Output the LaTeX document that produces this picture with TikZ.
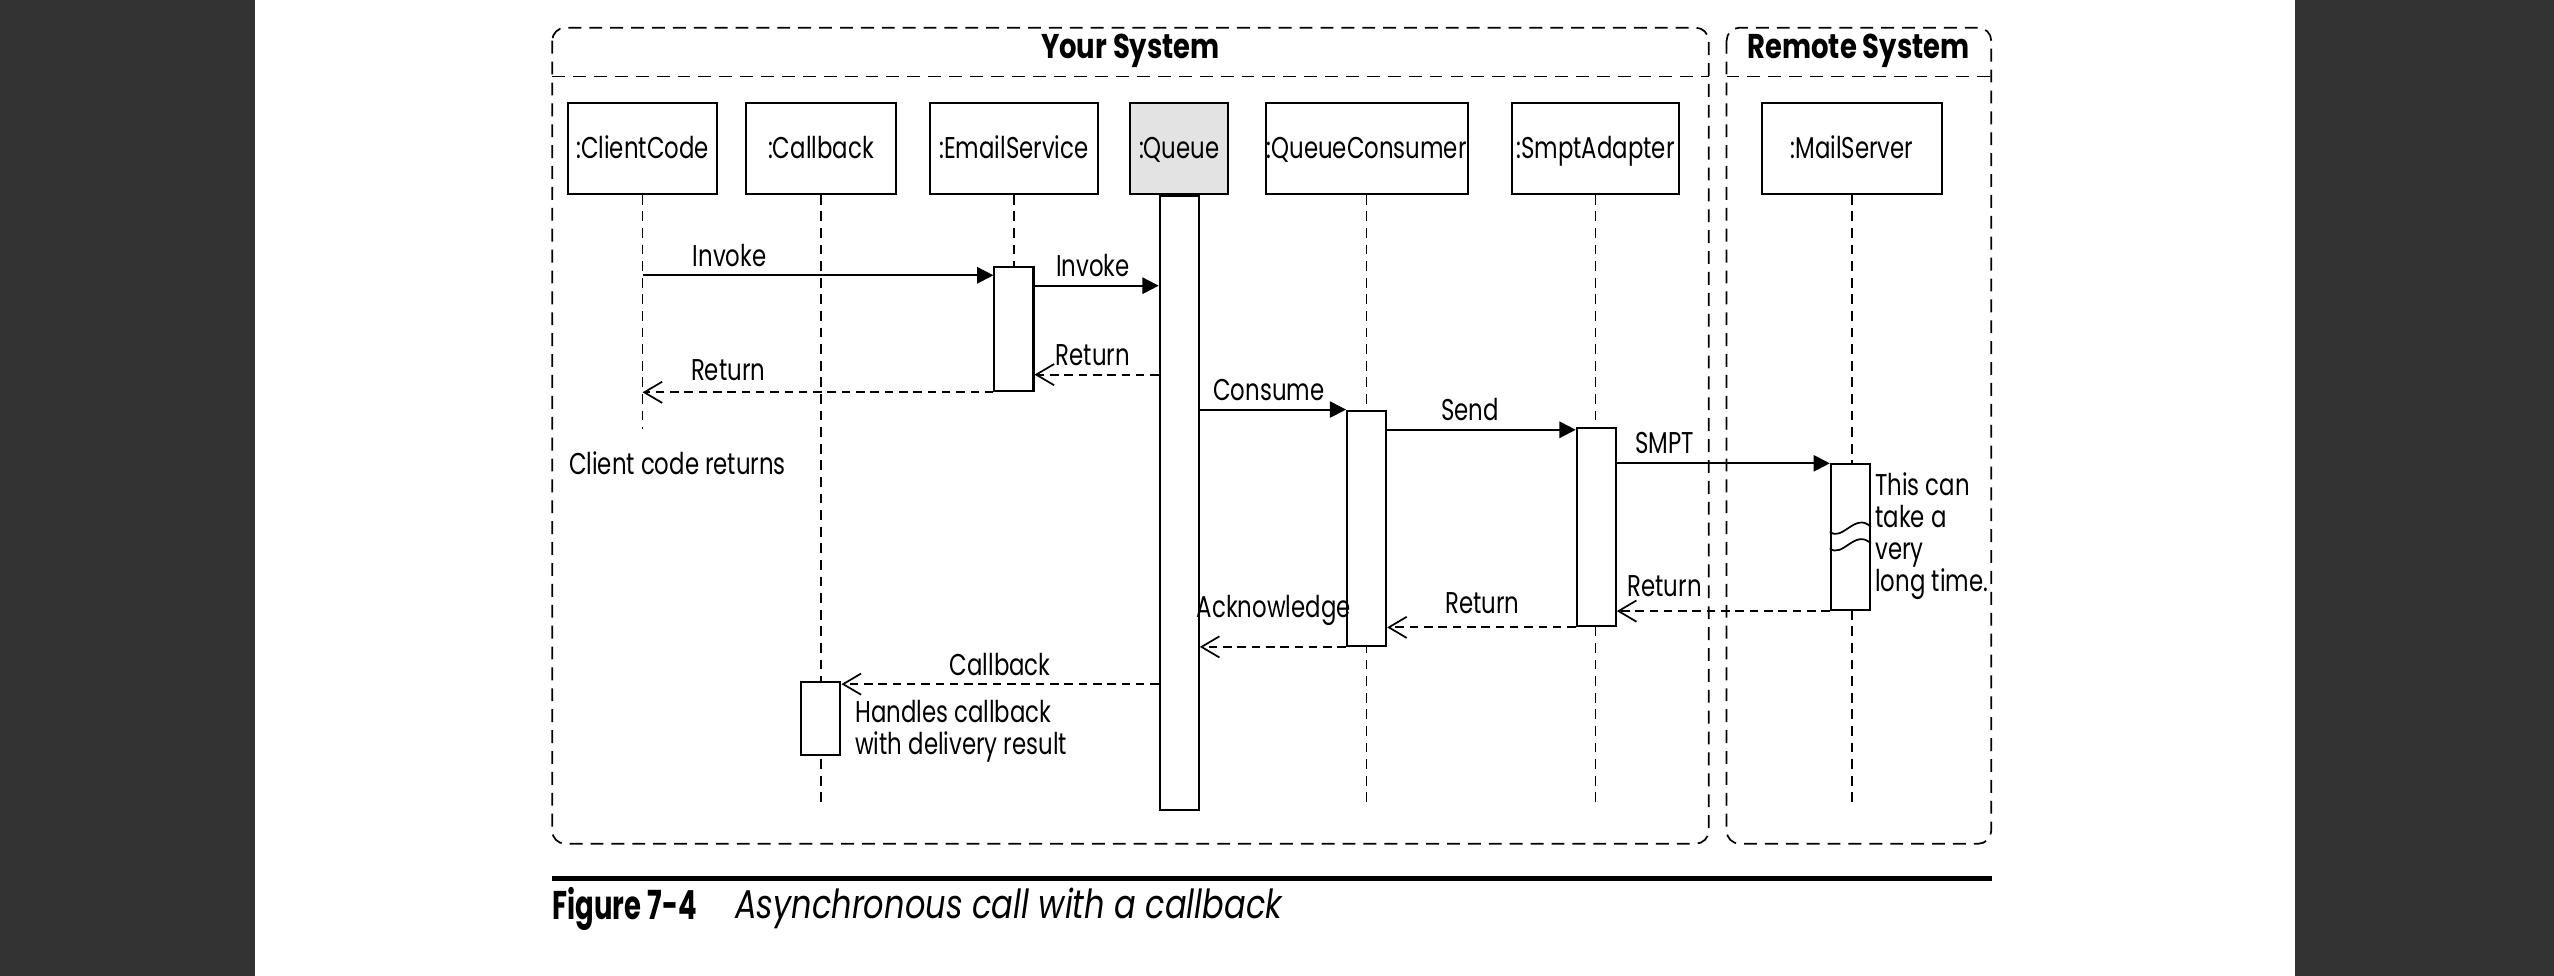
\documentclass[tikz,border=0pt]{standalone}
\usepackage{fontspec}
\setmainfont{Poppins}[FakeStretch=0.76]
\newfontfamily\titlefont{Poppins}[FakeStretch=0.8]
\newfontfamily\capnumfont{Poppins}[FakeStretch=0.685]
\newfontfamily\captextfont{Poppins}[FakeStretch=0.8]
\usetikzlibrary{arrows.meta}

\definecolor{pagegray}{HTML}{333333}
\definecolor{queuegray}{HTML}{E3E3E3}

\tikzset{
    obj/.style={draw, line width=0.7pt, minimum height=1.12cm, inner sep=0pt, text height=8pt, text depth=0.6pt, font=\fontsize{10.5}{12}\selectfont},
    actbar/.style={draw, fill=white, line width=0.7pt, minimum width=0.48cm, inner sep=0pt},
    lifeline/.style={line width=0.5pt, dash pattern=on 3.4pt off 2.4pt},
    frame/.style={line width=0.6pt, dash pattern=on 4.5pt off 2.8pt, rounded corners=0.16cm},
    framesep/.style={line width=0.6pt, dash pattern=on 4.5pt off 2.8pt},
    call/.style={line width=0.7pt, -{Triangle[length=0.2cm, width=0.2cm]}},
    reply/.style={line width=0.7pt, dash pattern=on 3pt off 2pt, -{Straight Barb[length=0.22cm, width=0.26cm, line width=0.6pt]}},
    msg/.style={font=\fontsize{10.5}{12}\selectfont, inner sep=0pt},
    note/.style={font=\fontsize{10.5}{11.2}\selectfont, align=left, anchor=west, inner sep=0pt},
    title/.style={font=\titlefont\bfseries\fontsize{12}{14}\selectfont, inner sep=0pt}
}

\begin{document}
\begin{tikzpicture}[x=0.02cm, y=-0.02cm]
    % Page
    \fill[pagegray] (0,0) rectangle (156.5,599);
    \fill[pagegray] (1409,0) rectangle (1568,599);
    \useasboundingbox (0,0) rectangle (1568,599);
    % Frames
    \draw[frame] (339,17) rectangle (1049,518);
    \draw[frame] (1060,17) rectangle (1222.5,518);
    \draw[framesep] (339,47) -- (1049,47);
    \draw[framesep] (1060,47) -- (1222.5,47);
    \node[title] (yourtitle) at (694,31.5) {Your System};
    \node[title] (remotetitle) at (1141,31.5) {Remote System};
    % Objects
    \node[obj, minimum width=1.84cm] (client) at (394.5,91) {:ClientCode};
    \node[obj, minimum width=1.84cm] (callback) at (504,91) {:Callback};
    \node[obj, minimum width=2.06cm] (email) at (622.5,91) {:EmailService};
    \node[obj, minimum width=1.2cm, fill=queuegray] (queue) at (724,91) {:Queue};
    \node[obj, minimum width=2.48cm] (consumer) at (839,91) {:QueueConsumer};
    \node[obj, minimum width=2.04cm] (adapter) at (979.5,91) {:SmptAdapter};
    \node[obj, minimum width=2.22cm] (mail) at (1137,91) {:MailServer};
    % Lifelines
    \draw[lifeline] (client.south) -- ++(0,144);
    \draw[lifeline] (callback.south) -- ++(0,377);
    \draw[lifeline] (email.south) -- ++(0,45);
    \draw[lifeline] (consumer.south) -- ++(0,377);
    \draw[lifeline] (adapter.south) -- ++(0,375);
    \draw[lifeline] (mail.south) -- ++(0,375);
    % Activations
    \node[actbar, minimum height=7.54cm, anchor=north] (queueact) at (queue.south) {};
    \node[actbar, minimum height=1.53cm] (emailact) at (622.5,202) {};
    \node[actbar, minimum height=2.89cm] (consumeract) at (839,324.3) {};
    \node[actbar, minimum height=2.43cm] (adapteract) at (980,323.8) {};
    \node[actbar, minimum height=1.79cm] (mailact) at (1136,329.8) {};
    \node[actbar, minimum height=0.9cm] (callbackact) at (504,441) {};
    % Long wait
    \draw[line width=0.6pt] (mailact.west |- 0,326.4) .. controls (1131,333) and (1139,314) .. (mailact.east |- 0,323.5);
    \draw[line width=0.6pt] (mailact.west |- 0,336.6) .. controls (1131,343.2) and (1139,324.2) .. (mailact.east |- 0,333.7);
    % Rows
    \coordinate (invokeA) at (0,169);
    \coordinate (invokeB) at (0,175.4);
    \coordinate (returnA) at (0,230);
    \coordinate (callbackrow) at (0,420);
    % Messages
    \draw[call] (client |- invokeA) -- (emailact.west |- invokeA);
    \draw[call] (emailact.east |- invokeB) -- (queueact.west |- invokeB);
    \draw[reply] (queueact.west |- returnA) -- (emailact.east |- returnA);
    \draw[reply] (emailact.south west) -- (client |- emailact.south);
    \draw[call] (queueact.east |- consumeract.north) -- (consumeract.north west);
    \draw[call] ([yshift=-0.8pt]consumeract.north east |- adapteract.north) -- ([yshift=-0.8pt]adapteract.north west);
    \draw[call] (adapteract.east |- mailact.north) -- (mailact.north west);
    \draw[reply] (mailact.south west) -- (adapteract.east |- mailact.south);
    \draw[reply] (adapteract.south west) -- (consumeract.east |- adapteract.south);
    \draw[reply] (consumeract.south west) -- (queueact.east |- consumeract.south);
    \draw[reply] (queueact.west |- callbackrow) -- (callbackact.east |- callbackrow);
    % Labels
    \node[msg] (invokelabA) at (448,156.6) {Invoke};
    \node[msg] (invokelabB) at (671,163) {Invoke};
    \node[msg] (returnlabA) at (671,218) {Return};
    \node[msg] (returnlabB) at (447,227.5) {Return};
    \node[msg] (consumelab) at (779,239.6) {Consume};
    \node[msg] (sendlab) at (902.6,251.7) {Send};
    \node[msg] (smptlab) at (1022,272) {SMPT};
    \node[msg] (returnlabC) at (1022,360) {Return};
    \node[msg] (returnlabD) at (910,370) {Return};
    \node[msg] (acklab) at (782,374.5) {Acknowledge};
    \node[msg] (callbacklab) at (614,408) {Callback};
    % Notes
    \node[note] (clientnote) at (349,284.4) {Client code returns};
    \node[note] (callbacknote) at (524.7,449) {Handles callback\\with delivery result};
    \node[note] (mailnote) at (1151,329) {This can\\take a\\very\\long time.};
    % Caption
    \draw[line width=1.7pt] (339,539.5) -- (1223,539.5);
    \node[anchor=west, inner sep=0pt, font=\capnumfont\bfseries\fontsize{14}{16}\selectfont] (capnum) at (339,558) {Figure 7-4};
    \node[anchor=west, inner sep=0pt, font=\captextfont\itshape\fontsize{14}{16}\selectfont] (captext) at (451,558) {Asynchronous call with a callback};
\end{tikzpicture}
\end{document}
